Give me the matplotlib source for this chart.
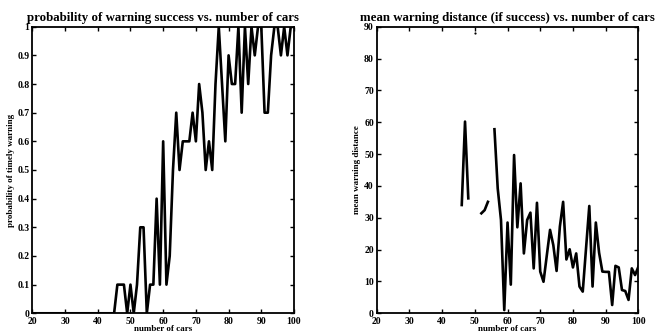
import numpy as np
import matplotlib
matplotlib.use("Agg")
import matplotlib.pyplot as plt

# number of cars (x axis for both panels)
n_cars = np.arange(20, 101)

# probability of timely warning, one value per number of cars (20..100)
p_success = [0.0] * 26 + [
    0.1, 0.1, 0.1, 0.0, 0.1, 0.0, 0.1, 0.3, 0.3, 0.0,   # 46-55
    0.1, 0.1, 0.4, 0.1, 0.6, 0.1, 0.2, 0.5, 0.7, 0.5,   # 56-65
    0.6, 0.6, 0.6, 0.7, 0.6, 0.8, 0.7, 0.5, 0.6, 0.5,   # 66-75
    0.8, 1.0, 0.8, 0.6, 0.9, 0.8, 0.8, 1.0, 0.7, 1.0,   # 76-85
    0.8, 1.0, 0.9, 1.0, 1.0, 0.7, 0.7, 0.9, 1.0, 1.0,   # 86-95
    0.9, 1.0, 0.9, 1.0, 1.0,                            # 96-100
]

# mean warning distance if success (nan where no success)
nan = np.nan
mean_dist = [nan] * 26 + [
    34.0, 60.2, 36.1, nan, 88.0, nan, 31.4, 32.4, 35.0, nan,   # 46-55
    57.8, 39.2, 29.3, 1.0, 28.5, 9.0, 49.7, 27.0, 40.8, 18.8,  # 56-65
    29.3, 31.6, 14.1, 34.7, 13.1, 9.9, 18.1, 26.2, 21.4, 13.3, # 66-75
    27.2, 35.0, 16.9, 20.1, 14.4, 18.8, 8.4, 6.8, 20.3, 33.7,  # 76-85
    8.4, 28.5, 19.0, 13.1, 13.0, 13.0, 2.6, 14.9, 14.4, 7.3,   # 86-95
    7.0, 4.2, 14.1, 12.0, 14.6,                                # 96-100
]

plt.rcParams['font.family'] = 'Liberation Serif'
plt.rcParams['font.weight'] = 'bold'

fig = plt.figure(figsize=(6.57, 3.33), dpi=100)
ax1 = fig.add_axes([0.0492, 0.0592, 0.3983, 0.8606])
ax2 = fig.add_axes([0.5734, 0.0592, 0.3982, 0.8606])


def style_axes(ax):
    ax.tick_params(direction='in', length=3, width=1, labelsize=7,
                   top=True, right=True)
    ax.tick_params(axis='x', pad=3)
    ax.tick_params(axis='y', pad=2)
    for sp in ax.spines.values():
        sp.set_linewidth(1.3)
    for lab in ax.get_xticklabels() + ax.get_yticklabels():
        lab.set_fontweight('bold')


# left panel: probability of success
ax1.plot(n_cars, p_success, color='black', lw=1.9)
ax1.set_xlim(20, 100)
ax1.set_ylim(0, 1)
ax1.set_xticks(np.arange(20, 101, 10))
ax1.set_yticks(np.arange(0, 1.01, 0.1))
ax1.set_yticklabels(['0', '0.1', '0.2', '0.3', '0.4', '0.5', '0.6', '0.7', '0.8', '0.9', '1'])
ax1.set_title('probability of warning success vs. number of cars', fontsize=9.3, fontweight='bold', pad=4)
ax1.set_xlabel('number of cars', fontsize=6.5, fontweight='bold', labelpad=-1)
ax1.set_ylabel('probability of timely warning', fontsize=6.5, fontweight='bold', labelpad=2)
style_axes(ax1)

# right panel: mean warning distance
d = np.array(mean_dist)
ax2.plot(n_cars, d, color='black', lw=1.9)
# isolated points (no neighbours) show up as small dots
ok = ~np.isnan(d)
left_nb = np.r_[False, ok[:-1]]
right_nb = np.r_[ok[1:], False]
iso = ok & ~left_nb & ~right_nb
ax2.plot(n_cars[iso], d[iso], 'o', color='black', ms=1.6, mew=0)
ax2.set_xlim(20, 100)
ax2.set_ylim(0, 90)
ax2.set_xticks(np.arange(20, 101, 10))
ax2.set_yticks(np.arange(0, 91, 10))
ax2.set_title('mean warning distance (if success) vs. number of cars', fontsize=9.3, fontweight='bold', pad=4)
ax2.set_xlabel('number of cars', fontsize=6.5, fontweight='bold', labelpad=-1)
ax2.set_ylabel('mean warning distance', fontsize=6.5, fontweight='bold', labelpad=2)
style_axes(ax2)

fig.savefig('out.png', dpi=100)
